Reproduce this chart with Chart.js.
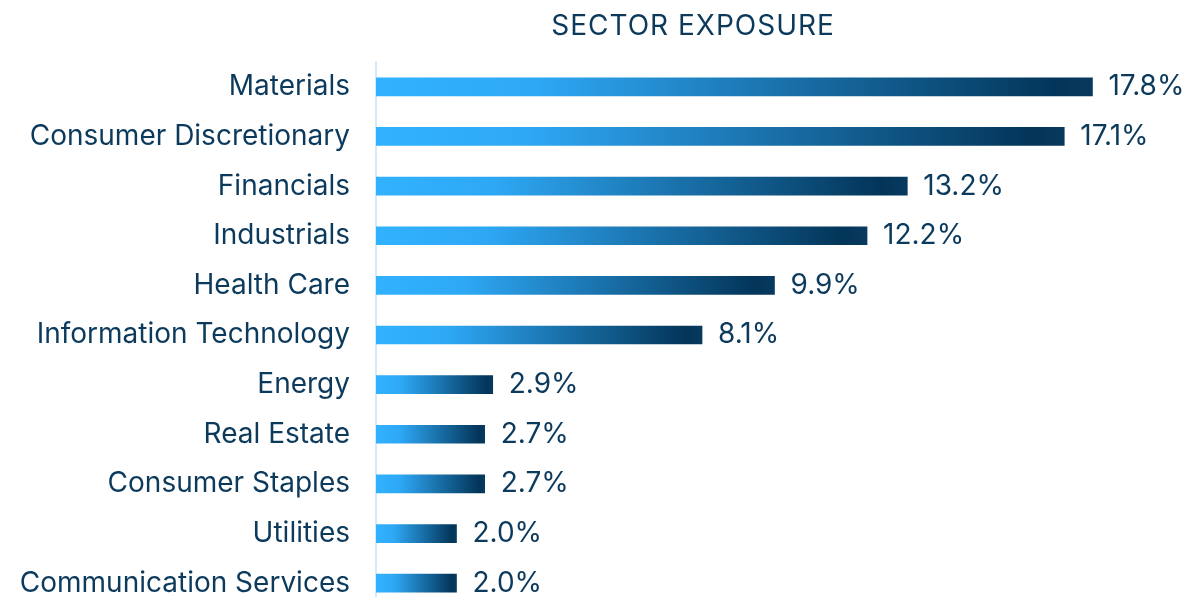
<!DOCTYPE html>
<html>
<head>
<meta charset="utf-8">
<script src="https://cdn.jsdelivr.net/npm/chart.js@4/dist/chart.umd.min.js"></script>
<style>
html,body{margin:0;padding:0;background:#fff;overflow:hidden;width:1189px;height:597px;}
#wrap{position:relative;width:1189px;height:608px;}
</style>
</head>
<body>
<div id="wrap"><canvas id="c"></canvas></div>
<script>
const categories = ["Materials","Consumer Discretionary","Financials","Industrials","Health Care","Information Technology","Energy","Real Estate","Consumer Staples","Utilities","Communication Services"];
const values = [17.8,17.1,13.2,12.2,9.9,8.1,2.9,2.7,2.7,2.0,2.0];
const valueLabels = ["17.8%","17.1%","13.2%","12.2%","9.9%","8.1%","2.9%","2.7%","2.7%","2.0%","2.0%"];
const chartTitle = "SECTOR EXPOSURE";

const TEXT = "#0c3a5c";
const FONT = "Inter";

function barGradient(ctx){
  const chart = ctx.chart;
  if (!chart.chartArea || !chart.scales.x) return "#2ea6f0";
  const xs = chart.scales.x;
  const x0 = xs.getPixelForValue(0);
  const x1 = xs.getPixelForValue(ctx.raw);
  const g = chart.ctx.createLinearGradient(x0, 0, x1, 0);
  g.addColorStop(0, "#31b2ff");
  g.addColorStop(0.22, "#2ea8f5");
  g.addColorStop(0.95, "#033559");
  g.addColorStop(1, "#073a5e");
  return g;
}

const labelPlugin = {
  id: "valueLabels",
  afterDatasetsDraw(chart){
    const c = chart.ctx;
    const meta = chart.getDatasetMeta(0);
    c.save();
    c.font = "28px " + FONT;
    c.fillStyle = TEXT;
    c.textAlign = "left";
    c.textBaseline = "middle";
    meta.data.forEach((bar, i) => {
      c.fillText(valueLabels[i], bar.x + 16, bar.y);
    });
    c.restore();
  }
};

const titlePlugin = {
  id: "customTitle",
  afterDraw(chart){
    const c = chart.ctx;
    c.save();
    c.font = "28px " + FONT;
    try { c.letterSpacing = "1px"; } catch(e) {}
    c.fillStyle = TEXT;
    c.textAlign = "center";
    c.textBaseline = "middle";
    c.fillText(chartTitle, 693, 27);
    c.restore();
  }
};

new Chart(document.getElementById("c"), {
  type: "bar",
  data: {
    labels: categories,
    datasets: [{
      data: values,
      backgroundColor: barGradient,
      borderWidth: 0,
      barThickness: 18
    }]
  },
  options: {
    indexAxis: "y",
    responsive: true,
    maintainAspectRatio: false,
    animation: false,
    events: [],
    layout: { autoPadding: false, padding: { top: 62, bottom: 0, right: 8, left: 0 } },
    plugins: { legend: { display: false }, tooltip: { enabled: false }, title: { display: false } },
    scales: {
      x: { display: false, min: 0, max: 20 },
      y: {
        afterFit(scale){
          scale.width = 376;
          scale.paddingTop = 0;
          scale.paddingBottom = 0;
        },
        grid: { display: false, drawTicks: false },
        border: { display: true, color: "#d3e9fc", width: 2 },
        ticks: { color: TEXT, font: { family: FONT, size: 28 }, padding: 26 }
      }
    }
  },
  plugins: [labelPlugin, titlePlugin]
});
</script>
</body>
</html>
